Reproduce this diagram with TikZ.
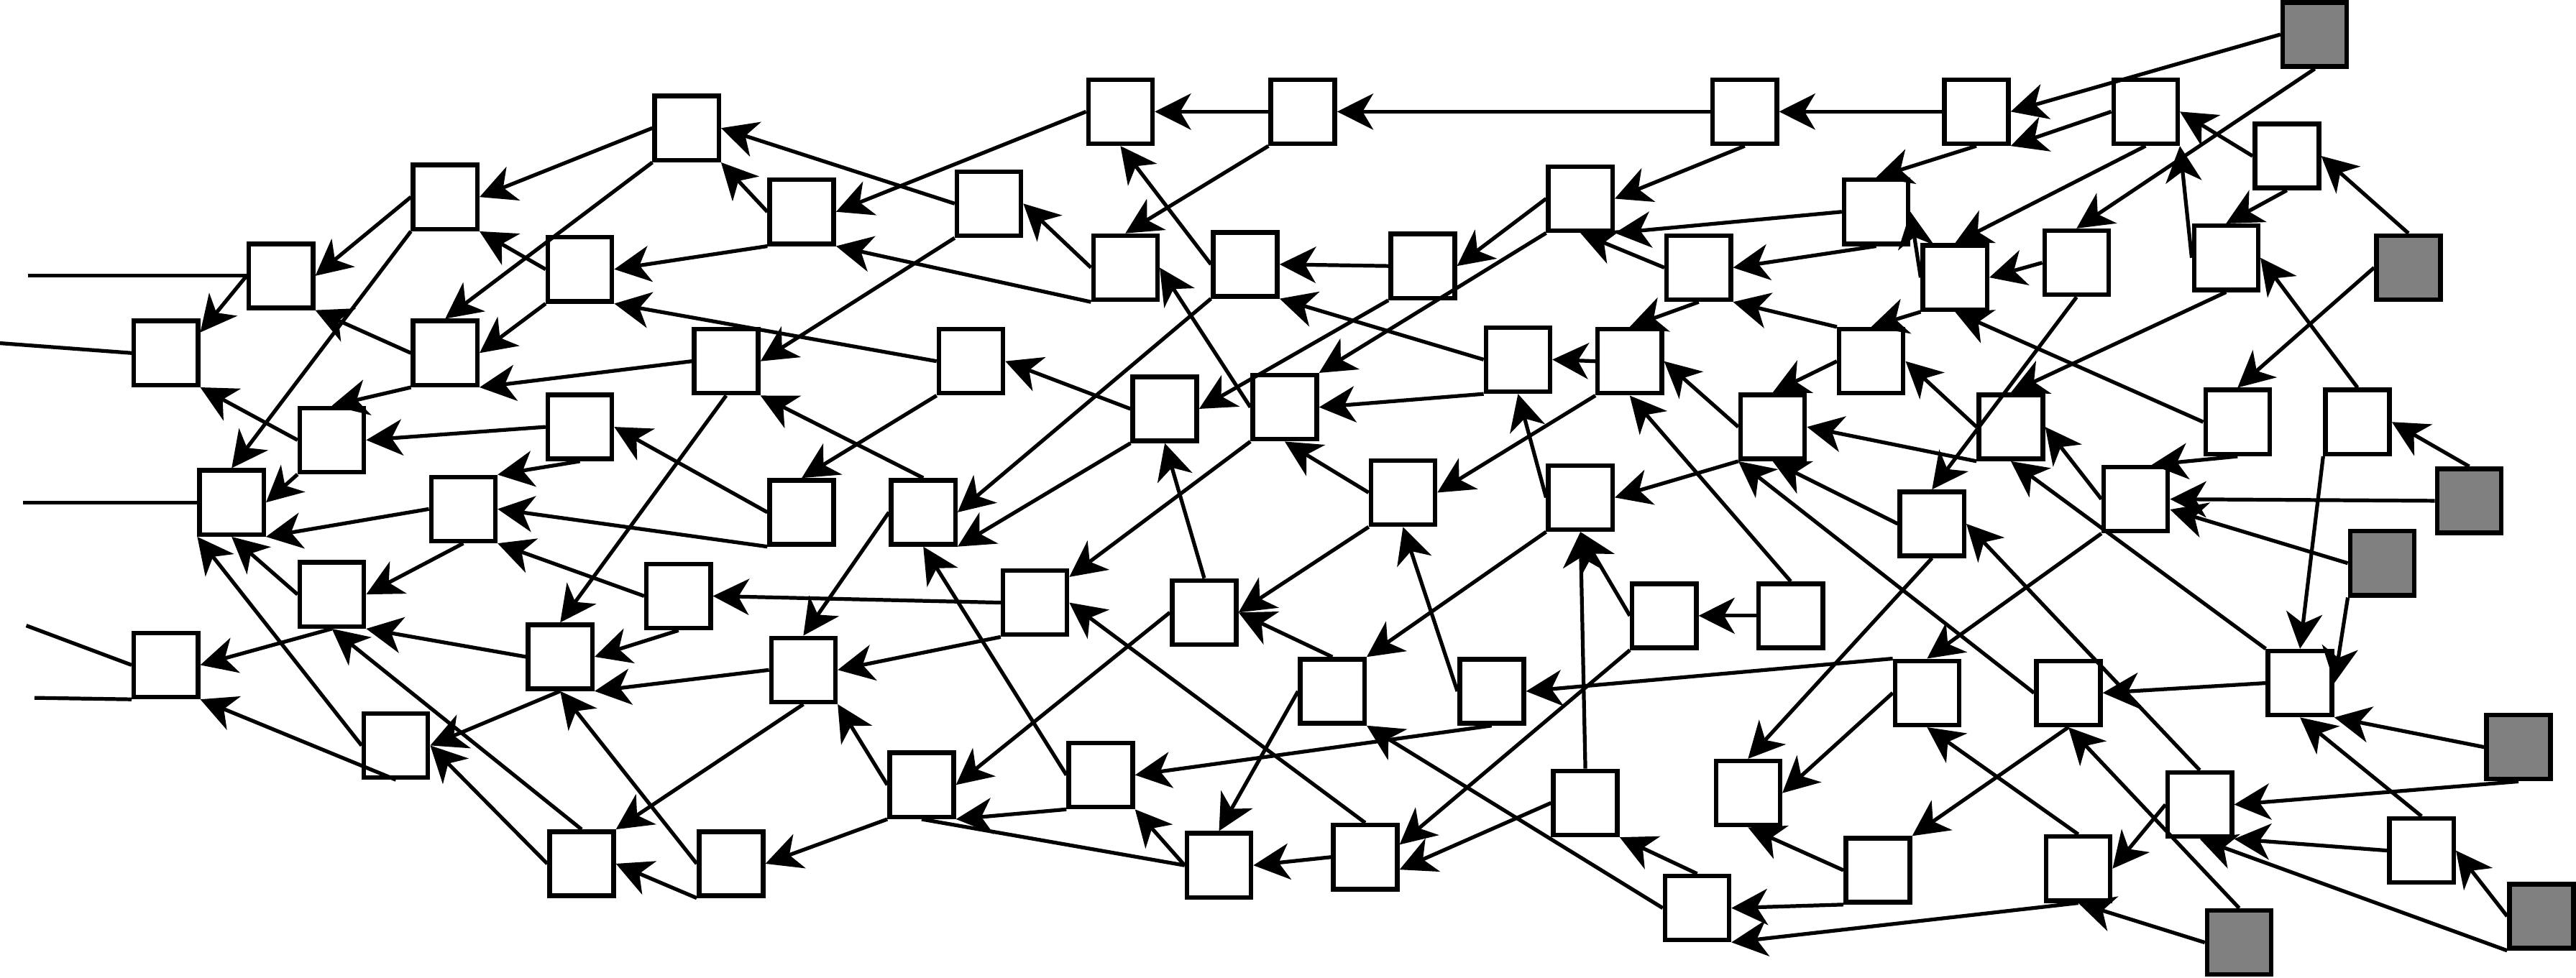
\documentclass[tikz,border=0pt]{standalone}
\usetikzlibrary{arrows.meta}
\tikzset{main node/.style={rectangle,fill=white,draw,line width=0.8pt,minimum size=3.9mm,inner sep=0pt},
         input node/.style={main node,fill=black!50},
         link/.style={-{Stealth[length=2.2mm,width=2.2mm,inset=0.65mm]},line width=0.65pt},
         plain link/.style={-,line width=0.65pt},
}
\begin{document}
\begin{tikzpicture}[x=0.1mm,y=-0.1mm]
\useasboundingbox (0,0) rectangle (1568,595.6);
% \draw[help lines,step=100] (0,0) grid (1568,596);
\node[main node] (n1) at (418,78) {};
\node[main node] (n2) at (271,120) {};
\node[main node] (n3) at (171,168) {};
\node[main node] (n4) at (101,215) {};
\node[main node] (n5) at (353,164) {};
\node[main node] (n6) at (271,215) {};
\node[main node] (n7) at (488,129) {};
\node[main node] (n8) at (602,124) {};
\node[main node] (n9) at (682,68) {};
\node[main node] (n10) at (793,68) {};
\node[main node] (n11) at (1062,68) {};
\node[main node] (n12) at (1203,68) {};
\node[main node] (n13) at (1306,68) {};
\node[main node] (n14) at (1392,95) {};
\node[main node] (n15) at (962,121) {};
\node[main node] (n16) at (1142,129) {};
\node[main node] (n17) at (1034,163) {};
\node[main node] (n18) at (1190,169) {};
\node[main node] (n19) at (1264,160) {};
\node[main node] (n20) at (1355,157) {};
\node[main node] (n21) at (685,163) {};
\node[main node] (n22) at (758,161) {};
\node[main node] (n23) at (866,162) {};
\node[main node] (n24) at (442,220) {};
\node[main node] (n25) at (591,220) {};
\node[main node] (n26) at (924,219) {};
\node[main node] (n27) at (992,220) {};
\node[main node] (n28) at (1139,220) {};
\node[main node] (n29) at (709,249) {};
\node[main node] (n30) at (782,248) {};
\node[main node] (n31) at (1079,260) {};
\node[main node] (n32) at (1224,260) {};
\node[main node] (n33) at (1362,257) {};
\node[main node] (n34) at (1435,257) {};
\node[main node] (n35) at (202,268) {};
\node[main node] (n36) at (353,260) {};
\node[main node] (n37) at (141,306) {};
\node[main node] (n38) at (282,310) {};
\node[main node] (n39) at (488,312) {};
\node[main node] (n40) at (562,312) {};
\node[main node] (n41) at (854,300) {};
\node[main node] (n42) at (962,303) {};
\node[main node] (n43) at (1300,304) {};
\node[main node] (n44) at (1176,319) {};
\node[main node] (n45) at (202,362) {};
\node[main node] (n46) at (413,363) {};
\node[main node] (n47) at (630,367) {};
\node[main node] (n48) at (733,373) {};
\node[main node] (n49) at (1013,375) {};
\node[main node] (n50) at (1090,375) {};
\node[main node] (n51) at (101,405) {};
\node[main node] (n52) at (341,400) {};
\node[main node] (n53) at (489,408) {};
\node[main node] (n54) at (811,421) {};
\node[main node] (n55) at (908,421) {};
\node[main node] (n56) at (1400,416) {};
\node[main node] (n57) at (1173,422) {};
\node[main node] (n58) at (1259,422) {};
\node[main node] (n59) at (241,454) {};
\node[main node] (n60) at (561,478) {};
\node[main node] (n61) at (670,472) {};
\node[main node] (n62) at (965,489) {};
\node[main node] (n63) at (1064,483) {};
\node[main node] (n64) at (1339,490) {};
\node[main node] (n65) at (1474,518) {};
\node[main node] (n66) at (354,526) {};
\node[main node] (n67) at (445,526) {};
\node[main node] (n68) at (742,527) {};
\node[main node] (n69) at (831,522) {};
\node[main node] (n70) at (1143,530) {};
\node[main node] (n71) at (1265,529) {};
\node[main node] (n72) at (1033,553) {};

\node[input node] (g1) at (1409,21) {};
\node[input node] (g2) at (1466,163) {};
\node[input node] (g3) at (1503,305) {};
\node[input node] (g4) at (1450,343) {};
\node[input node] (g5) at (1533,455) {};
\node[input node] (g6) at (1547,558) {};
\node[input node] (g7) at (1363,574) {};

\coordinate (in3) at (17,168);
\coordinate (in4) at (0,209);
\coordinate (in37) at (14,306);
\coordinate (in51a) at (16,381);
\coordinate (in51b) at (21,425);

\draw[plain link] (in3) -- (n3.west);
\draw[plain link] (in4) -- (n4.west);
\draw[plain link] (in37) -- (n37.west);
\draw[plain link] (in51a) -- (n51.west);
\draw[plain link] (in51b) -- (n51.south west);
\draw[plain link] (n68.west) -- (n60.south);

% left part
\draw[link] (n1.west) -- (n2.east);
\draw[link] (n1.south west) -- (n6.north);
\draw[link] (n8.west) -- (n1.east);
\draw[link] (n7.west) -- (n1.south east);
\draw[link] (n9.west) -- (n7.east);
\draw[link] (n7.south west) -- (n5.east);
\draw[link] (n2.west) -- (n3.east);
\draw[link] (n2.south west) -- (n37.north);
\draw[link] (n5.west) -- (n2.south east);
\draw[link] (n5.south west) -- (n6.east);
\draw[link] (n25.west) -- (n5.south east);
\draw[link] (n3.west) -- (n4.31);
\draw[link] (n6.west) -- (n3.south east);
\draw[link] (n24.west) -- (n6.south east);
\draw[link] (n6.south west) -- (n35.north);
\draw[link] (n35.west) -- (n4.south east);
\draw[link] (n36.west) -- (n35.east);
\draw[link] (n35.south west) -- (n37.east);
\draw[link] (n36.south) -- (n38.north east);
\draw[link] (n24.south) -- (n52.north);
\draw[link] (n39.west) -- (n36.east);
\draw[link] (n25.south west) -- (n39.north);
\draw[link] (n39.south west) -- (n38.east);
\draw[link] (n38.west) -- (n37.south east);
\draw[link] (n59.west) -- (n37.south west);
\draw[link] (n45.west) -- (n37.south);
\draw[link] (n38.south) -- (n45.east);
\draw[link] (n46.west) -- (n38.south east);
\draw[link] (n47.west) -- (n46.east);
\draw[link] (n46.south) -- (n52.east);
\draw[link] (n45.south) -- (n51.east);
\draw[link] (n59.south) -- (n51.south east);
\draw[link] (n66.north) -- (n45.south);
\draw[link] (n52.west) -- (n45.south east);
\draw[link] (n52.south) -- (n59.east);
\draw[link] (n66.west) -- (n59.east);
\draw[link] (n53.west) -- (n52.south east);
\draw[link] (n40.west) -- (n53.north);
\draw[link] (n53.south) -- (n66.north east);
\draw[link] (n67.west) -- (n52.south);
\draw[link] (n67.south west) -- (n66.east);
\draw[link] (n60.west) -- (n53.south east);
\draw[link] (n47.south west) -- (n53.east);
\draw[link] (n60.south west) -- (n67.east);

% middle part
\draw[link] (n10.west) -- (n9.east);
\draw[link] (n11.west) -- (n10.east);
\draw[link] (n21.south west) -- (n7.south east);
\draw[link] (n21.west) -- (n8.east);
\draw[link] (n10.south west) -- (n21.north);
\draw[link] (n22.west) -- (n9.south);
\draw[link] (n23.west) -- (n22.east);
\draw[link] (n8.south west) -- (n24.east);
\draw[link] (n30.west) -- (n21.east);
\draw[link] (n22.south west) -- (n40.east);
\draw[link] (n23.south west) -- (n29.east);
\draw[link] (n15.west) -- (n23.east);
\draw[link] (n15.south west) -- (n30.north east);
\draw[link] (n17.west) -- (n15.south);
\draw[link] (n16.west) -- (n15.south east);
\draw[link] (n11.south) -- (n15.east);
\draw[link] (n17.south) -- (n27.north);
\draw[link] (n26.west) -- (n22.south east);
\draw[link] (n27.west) -- (n26.east);
\draw[link] (n26.south west) -- (n30.east);
\draw[link] (n29.west) -- (n25.east);
\draw[link] (n29.south west) -- (n40.south east);
\draw[link] (n30.south west) -- (n47);
\draw[link] (n48.north) -- (n29.south);
\draw[link] (n41.west) -- (n30.south);
\draw[link] (n42.west) -- (n26.south);
\draw[link] (n27.south west) -- (n41.east);
\draw[link] (n50.north) -- (n27.south);
\draw[link] (n31.west) -- (n27.east);
\draw[link] (n31.south west) -- (n42.east);
\draw[link] (n40.north) -- (n24.south east);
\draw[link] (n61.west) -- (n40.south);
\draw[link] (n69.north) -- (n47.east);
\draw[link] (n48.west) -- (n60.east);
\draw[link] (n54.north) -- (n48.east);
\draw[link] (n41.south west) -- (n48.east);
\draw[link] (n54.west) -- (n68.north);
\draw[link] (n42.south west) -- (n54.north east);
\draw[link] (n55.west) -- (n41.south);
\draw[link] (n62.north) -- (n42.south);
\draw[link] (n49.west) -- (n42.south);
\draw[link] (n49.south west) -- (n69.20);
\draw[link] (n50.west) -- (n49.east);
\draw[link] (n57.north west) -- (n55.east);
\draw[link] (n55.south) -- (n61.east);
\draw[link] (n72.west) -- (n54.south east);
\draw[link] (n61.south west) -- (n60.south east);
\draw[link] (n68.west) -- (n61.south east);
\draw[link] (n69.west) -- (n68.east);
\draw[link] (n62.west) -- (n69.-20);
\draw[link] (n72.north) -- (n62.south east);
\draw[link] (n70.south west) -- (n72.east);
\draw[link] (n71.south) -- (n72.south east);

% right part
\draw[link] (n58.west) -- (n31.south west);
\draw[link] (n44.west) -- (n31.south);
\draw[link] (n19.south) -- (n44.north);
\draw[link] (n44.south) -- (n63.north);
\draw[link] (n64.north) -- (n44.east);
\draw[link] (n56.north west) -- (n32.south);
\draw[link] (n43.south west) -- (n57.north);
\draw[link] (n56.west) -- (n58.east);
\draw[link] (n34.south west) -- (n56.north);
\draw[link] (n65.north) -- (n56.south);
\draw[link] (n57.west) -- (n63.east);
\draw[link] (n71.north) -- (n57.south);
\draw[link] (n58.south) -- (n70.north east);
\draw[link] (n65.west) -- (n64.south east);
\draw[link] (n64.west) -- (n71.east);
\draw[link] (n70.west) -- (n63.south);
\draw[link] (n12.west) -- (n11.east);
\draw[link] (n13.west) -- (n12.south east);
\draw[link] (n12.south) -- (n16.north);
\draw[link] (n16.south) -- (n17.east);
\draw[link] (n19.west) -- (n18.east);
\draw[link] (n28.north west) -- (n17.south east);
\draw[link] (n18.south west) -- (n28.north);
\draw[link] (n28.west) -- (n31.north);
\draw[link] (n13.south) -- (n18.north);
\draw[link] (n14.west) -- (n13.east);
\draw[link] (n20.west) -- (n13.south east);
\draw[link] (n14.south) -- (n20.north);
\draw[link] (n20.south) -- (n32.north);
\draw[link] (n34.north) -- (n20.east);
\draw[link] (n18.west) -- (n16.east);
\draw[link] (n33.west) -- (n18.south);
\draw[link] (n32.south west) -- (n31.east);
\draw[link] (n32.west) -- (n28.east);
\draw[link] (n43.west) -- (n32.east);
\draw[link] (n33.south) -- (n43.65);

% grey inputs
\draw[link] (g1.west) -- (n12.east);
\draw[link] (g1.south) -- (n19.north);
\draw[link] (g2.north) -- (n14.east);
\draw[link] (g2.west) -- (n33.north);
\draw[link] (g3.west) -- (n43.east);
\draw[link] (g3.north) -- (n34.east);
\draw[link] (g4.west) -- (n43);
\draw[link] (g4.south west) -- (n56.east);
\draw[link] (g5.west) -- (n56.south east);
\draw[link] (g5.south) -- (n64.east);
\draw[link] (g6.south west) -- (n64.south);
\draw[link] (g6.west) -- (n65.east);
\draw[link] (g7.north) -- (n58.south);
\draw[link] (g7.west) -- (n71.south);
\end{tikzpicture}
\end{document}
